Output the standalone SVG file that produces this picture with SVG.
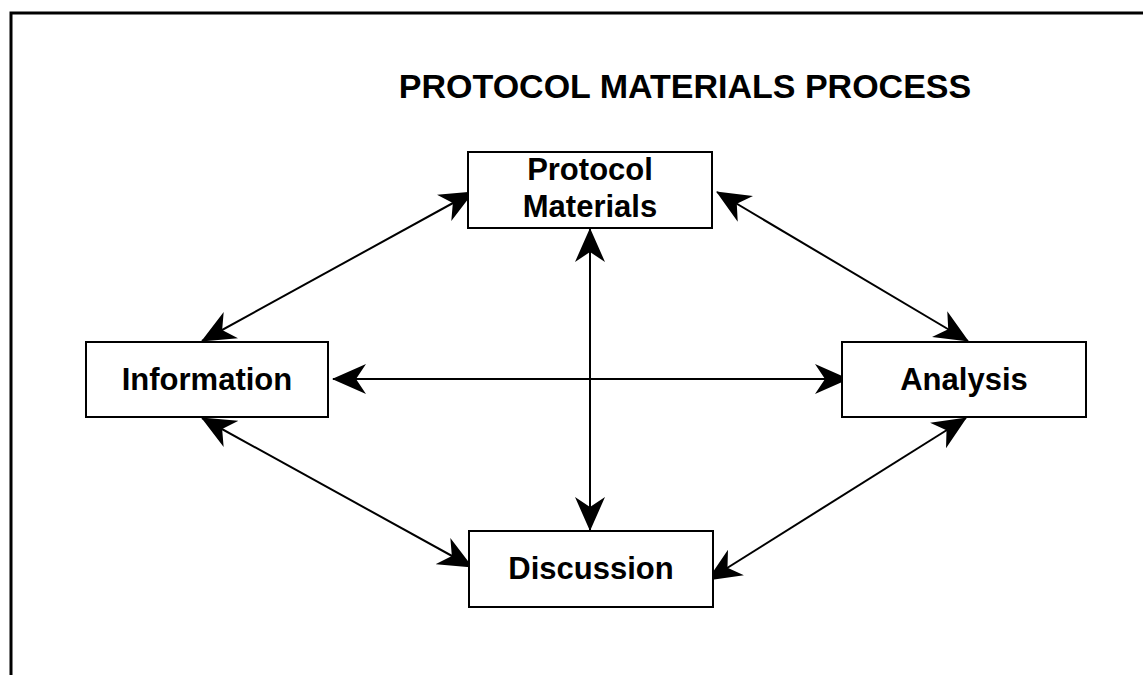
<svg xmlns="http://www.w3.org/2000/svg" width="1143" height="675" viewBox="0 0 1143 675">
  <style>
    .box { fill: #ffffff; stroke: #000000; stroke-width: 2; }
    .label { font-family: "Liberation Sans", Arial, sans-serif; font-weight: bold; font-size: 31px; fill: #000000; text-anchor: middle; }
    .title { font-family: "Liberation Sans", Arial, sans-serif; font-weight: bold; font-size: 34px; fill: #000000; text-anchor: middle; }
    .link { stroke: #000000; stroke-width: 2; fill: none; marker-start: url(#head); marker-end: url(#head); }
  </style>
  <defs>
    <marker id="head" viewBox="0 0 34 32" refX="33" refY="16" markerWidth="34" markerHeight="32" markerUnits="userSpaceOnUse" orient="auto-start-reverse">
      <path d="M34,16 L0,1 L10,16 L0,31 Z" fill="#000000"/>
    </marker>
  </defs>

  <rect width="1143" height="675" fill="#ffffff"/>
  <!-- page frame: left and top rule -->
  <path d="M11,675 V13 H1143" fill="none" stroke="#000000" stroke-width="3"/>

  <text class="title" x="685" y="98">PROTOCOL MATERIALS PROCESS</text>

  <g id="connectors">
    <line class="link" x1="202" y1="341" x2="473" y2="192"/>
    <line class="link" x1="717" y1="192" x2="968" y2="341"/>
    <line class="link" x1="333" y1="379" x2="848" y2="379"/>
    <line class="link" x1="590" y1="229" x2="590" y2="530"/>
    <line class="link" x1="202" y1="418" x2="472" y2="567"/>
    <line class="link" x1="966" y1="418" x2="708" y2="580"/>
  </g>

  <g id="protocol-materials">
    <rect class="box" x="468" y="152" width="244" height="76"/>
    <text class="label" x="590" y="180">Protocol</text>
    <text class="label" x="590" y="217">Materials</text>
  </g>

  <g id="information">
    <rect class="box" x="86" y="342" width="242" height="75"/>
    <text class="label" x="207" y="390">Information</text>
  </g>

  <g id="analysis">
    <rect class="box" x="842" y="342" width="244" height="75"/>
    <text class="label" x="964" y="390">Analysis</text>
  </g>

  <g id="discussion">
    <rect class="box" x="469" y="531" width="244" height="76"/>
    <text class="label" x="591" y="579">Discussion</text>
  </g>
</svg>
